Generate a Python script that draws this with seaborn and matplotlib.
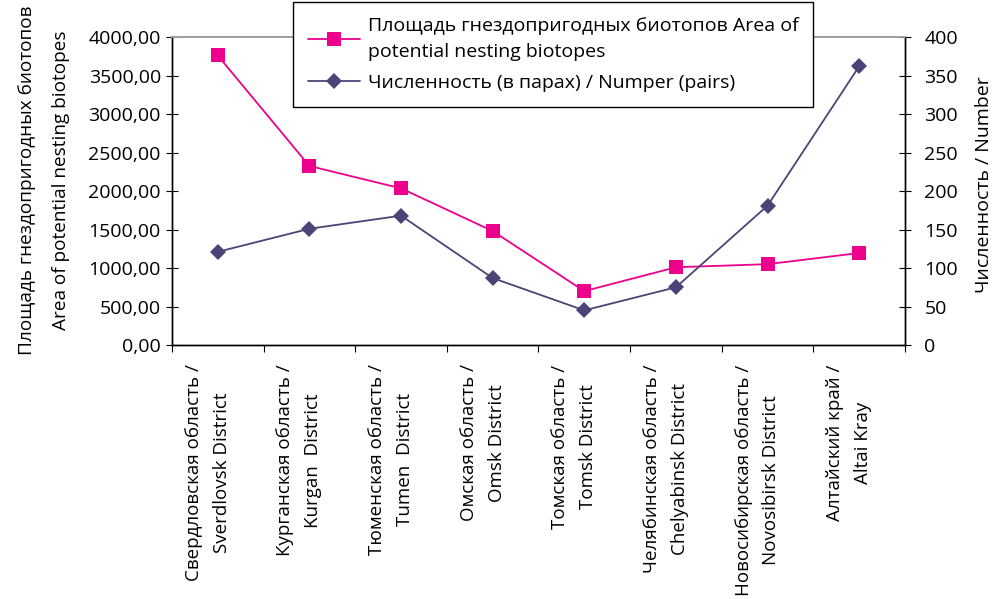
import seaborn as sns
import matplotlib.pyplot as plt
import pandas as pd
from matplotlib.ticker import FuncFormatter, FixedLocator
from matplotlib.transforms import ScaledTranslation

regions = ["Свердловская область /\nSverdlovsk District",
           "Курганская область /\nKurgan  District",
           "Тюменская область /\nTumen  District",
           "Омская область /\nOmsk District",
           "Томская область /\nTomsk District",
           "Челябинская область /\nChelyabinsk District",
           "Новосибирская область /\nNovosibirsk District",
           "Алтайский край /\nAltai Kray"]
area = [3760, 2325, 2035, 1480, 700, 1010, 1050, 1195]
pairs = [121, 151, 168, 87, 45, 75, 181, 362]

area_label = "Площадь гнездопригодных биотопов Area of\npotential nesting biotopes"
pairs_label = "Численность (в парах) / Numper (pairs)"

df = pd.DataFrame({"pos": range(len(regions)), "area": area, "pairs": pairs})

sns.set_style("ticks")
plt.rcParams['font.family'] = ['Open Sans', 'DejaVu Sans']
plt.rcParams['font.size'] = 14
plt.rcParams['text.color'] = 'black'
plt.rcParams['axes.labelcolor'] = 'black'
plt.rcParams['xtick.color'] = 'black'
plt.rcParams['ytick.color'] = 'black'

pink = "#EC008C"
purple = "#4A4577"
fs = 14

fig = plt.figure(figsize=(9.98, 5.99), dpi=100)
ax = fig.add_axes([0.1723, 0.424, 0.7345, 0.5142])
ax2 = ax.twinx()

sns.lineplot(data=df, x="pos", y="area", ax=ax, color=pink, marker="s",
             markersize=10, markeredgewidth=0, linewidth=1.3, label=area_label, legend=False)
sns.lineplot(data=df, x="pos", y="pairs", ax=ax2, color=purple, marker="D",
             markersize=8, markeredgewidth=0, linewidth=1.3, label=pairs_label, legend=False)

ax.set_xlim(-0.5, len(regions) - 0.5)
ax.set_ylim(0, 4000)
ax2.set_ylim(0, 400)
ax.set_yticks(range(0, 4001, 500))
ax2.set_yticks(range(0, 401, 50))
ax.yaxis.set_major_formatter(FuncFormatter(lambda v, p: f"{v:.2f}".replace(".", ",")))

# category labels centred in bins, tick marks on the bin edges
ax.xaxis.set_major_locator(FixedLocator([i - 0.5 for i in range(len(regions) + 1)]))
ax.xaxis.set_minor_locator(FixedLocator(list(range(len(regions)))))
ax.set_xticklabels([], minor=False)
ax.set_xticklabels(regions, minor=True, rotation=90, va="top", ha="center",
                   multialignment="center", linespacing=1.7)
ax.tick_params(axis="x", which="major", direction="out", length=5, color="black")
ax.tick_params(axis="x", which="minor", length=0, pad=14, labelsize=13.5)
shift = ScaledTranslation(-0.10, 0, fig.dpi_scale_trans)
for t in ax.get_xticklabels(minor=True):
    t.set_transform(t.get_transform() + shift)

ax.tick_params(axis="y", direction="inout", length=8, color="black", labelsize=fs, pad=4)
ax2.tick_params(axis="y", direction="inout", length=8, color="black", labelsize=fs, pad=10)

ax.set_xlabel("")
ax.set_ylabel("Площадь гнездопригодных биотопов\nArea of potential nesting biotopes",
              fontsize=13.7, linespacing=2.15)
ax.yaxis.set_label_coords(-0.139, 0.535)
ax2.set_ylabel("Численность / Number", fontsize=fs)
ax2.yaxis.set_label_coords(1.0955, 0.52)

for a in (ax, ax2):
    for s in ("left", "right", "bottom"):
        a.spines[s].set_color("black")
        a.spines[s].set_linewidth(1.0)
    a.spines["top"].set_color("#A0A0A0")
    a.spines["top"].set_linewidth(1.3)
    a.grid(False)

h1, l1 = ax.get_legend_handles_labels()
h2, l2 = ax2.get_legend_handles_labels()
leg = fig.legend(h1 + h2, l1 + l2, loc="upper left", bbox_to_anchor=(0.2936, 0.9967),
                 borderaxespad=0, frameon=True, fancybox=False, edgecolor="black",
                 framealpha=1, fontsize=fs, handlelength=2.7, handletextpad=0.4,
                 borderpad=0.75, labelspacing=0.7)
leg.get_frame().set_linewidth(1.0)
for t in leg.get_texts():
    t.set_linespacing(1.58)

fig.savefig("out.png", dpi=100)
